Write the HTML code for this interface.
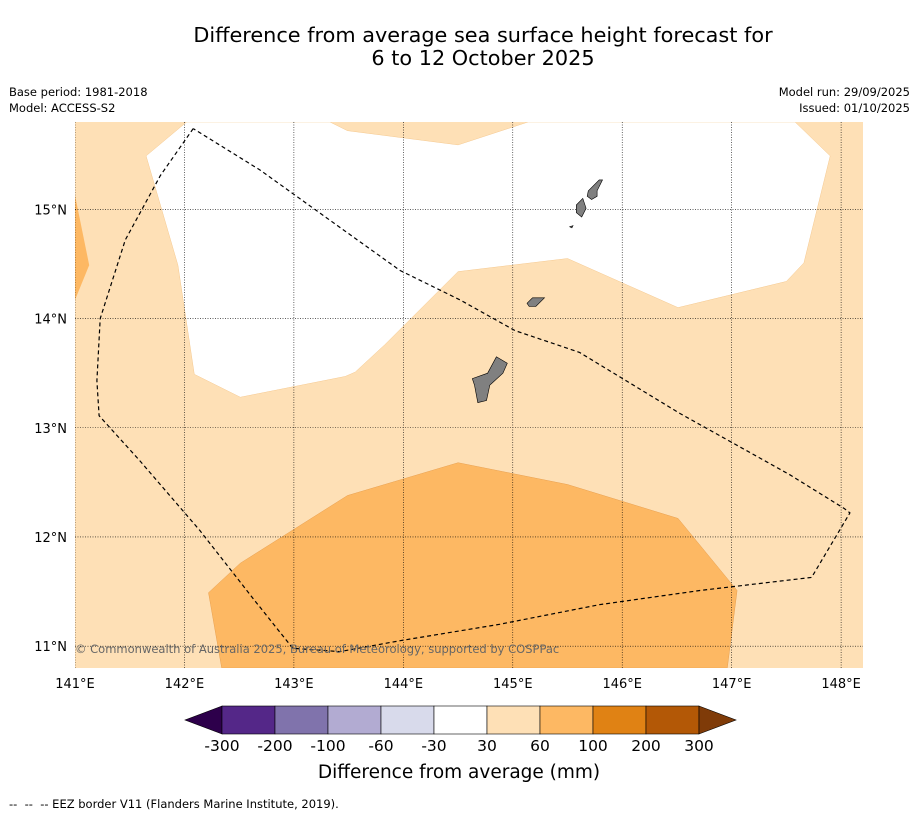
<!DOCTYPE html>
<html><head><meta charset="utf-8">
<style>
body{margin:0;background:#fff;font-family:"Liberation Sans","DejaVu Sans",sans-serif;}
svg text{font-family:"DejaVu Sans","Liberation Sans",sans-serif;}
</style></head>
<body>
<svg width="919" height="816" xmlns="http://www.w3.org/2000/svg">
<text x="483" y="42" font-size="20.8" text-anchor="middle">Difference from average sea surface height forecast for</text>
<text x="483" y="65" font-size="20.8" text-anchor="middle">6 to 12 October 2025</text>
<text x="9" y="96" font-size="11.5">Base period: 1981-2018</text>
<text x="9" y="112" font-size="11.5">Model: ACCESS-S2</text>
<text x="910" y="96" font-size="11.5" text-anchor="end">Model run: 29/09/2025</text>
<text x="910" y="112" font-size="11.5" text-anchor="end">Issued: 01/10/2025</text>
<g id="map"></g>
<g id="cbar"></g>
<text x="459" y="778" font-size="18.5" text-anchor="middle">Difference from average (mm)</text>
<text x="9" y="808" font-size="11.5">--&#160;&#160;--&#160;&#160;-- EEZ border V11 (Flanders Marine Institute, 2019).</text>
</svg>
<script>
const lonTicks=[141,142,143,144,145,146,147,148];
const latTicks=[11,12,13,14,15];
const whiteRegion=[[142.02,15.80],[141.65,15.49],[141.94,14.49],[142.09,13.49],[142.51,13.28],[143.47,13.47],[143.56,13.51],[143.83,13.76],[144.50,14.43],[145.50,14.55],[146.51,14.10],[147.50,14.34],[147.66,14.51],[147.90,15.49],[147.58,15.80],[145.14,15.80],[144.50,15.59],[143.49,15.72],[143.33,15.80]];
const orangeRegion=[[142.34,10.80],[142.22,11.49],[142.51,11.76],[143.49,12.38],[144.50,12.68],[145.50,12.48],[146.51,12.17],[147.05,11.51],[146.96,10.80]];
const leftOrange=[[141.0,15.13],[141.13,14.49],[141.0,14.17]];
const eez=[[142.08,15.74],[141.78,15.31],[141.46,14.72],[141.23,14.00],[141.20,13.43],[141.22,13.11],[141.59,12.70],[142.14,12.06],[142.64,11.42],[142.99,10.98],[143.42,10.95],[143.97,11.05],[144.88,11.20],[145.79,11.38],[146.71,11.51],[147.73,11.63],[148.08,12.22],[148.03,12.26],[147.53,12.57],[146.53,13.13],[145.61,13.69],[145.02,13.89],[144.52,14.17],[143.97,14.44],[143.33,14.90],[142.69,15.36],[142.08,15.74]];
const islands=[
 [[144.63,13.45],[144.77,13.50],[144.85,13.65],[144.95,13.59],[144.91,13.50],[144.79,13.39],[144.76,13.25],[144.68,13.23],[144.65,13.39]],
 [[145.13,14.14],[145.18,14.19],[145.29,14.19],[145.21,14.11],[145.15,14.11]],
 [[145.69,15.17],[145.79,15.27],[145.82,15.27],[145.77,15.17],[145.77,15.12],[145.72,15.09],[145.68,15.12]],
 [[145.58,15.04],[145.64,15.10],[145.67,15.01],[145.63,14.93],[145.58,14.97]],
 [[145.52,14.84],[145.55,14.85],[145.54,14.83]]
];
const cbarLevels=["-300","-200","-100","-60","-30","30","60","100","200","300"];
const cbarColors=["#542788","#8073ac","#b2abd2","#d8daeb","#ffffff","#fee0b6","#fdb863","#e08214","#b35806"];
const NS="http://www.w3.org/2000/svg";
const X0=75,X1=863,Y0=122,Y1=668,LON0=141,LON1=148.2,LAT0=10.8,LAT1=15.8;
const xs=lon=>X0+(lon-LON0)/(LON1-LON0)*(X1-X0);
const ys=lat=>Y1-(lat-LAT0)/(LAT1-LAT0)*(Y1-Y0);
function mk(tag,attrs,parent){const e=document.createElementNS(NS,tag);for(const k in attrs)e.setAttribute(k,attrs[k]);parent.appendChild(e);return e;}
const pts=a=>a.map(p=>xs(p[0]).toFixed(1)+","+ys(p[1]).toFixed(1)).join(" ");
const map=document.getElementById('map');
const defs=mk('defs',{},map);const cp=mk('clipPath',{id:'clip'},defs);mk('rect',{x:X0,y:Y0,width:X1-X0,height:Y1-Y0},cp);
const g=mk('g',{'clip-path':'url(#clip)'},map);
let e=mk('rect',{x:X0,y:Y0,width:X1-X0,height:Y1-Y0,fill:'#fee0b6'},g);


e=mk('polygon',{points:pts(whiteRegion),fill:'#fff',stroke:'#f5c990','stroke-width':0.5},g);


e=mk('polygon',{points:pts(orangeRegion),fill:'#fdb863',stroke:'#e8a050','stroke-width':0.5},g);


e=mk('polygon',{points:pts(leftOrange),fill:'#fdb863'},g);


lonTicks.forEach(l=>{const x=xs(l);
 const ln=mk('line',{x1:x,x2:x,y1:Y0,y2:Y1,stroke:'#000','stroke-width':0.6,'stroke-dasharray':'1,1.5'},g);
 
 
 const t=mk('text',{x:x,y:688,'font-size':13,'text-anchor':'middle'},map);t.textContent=l+'°E';
 
 });
latTicks.forEach(l=>{const y=ys(l);
 const ln=mk('line',{x1:X0,x2:X1,y1:y,y2:y,stroke:'#000','stroke-width':0.6,'stroke-dasharray':'1,1.5'},g);
 
 
 const t=mk('text',{x:67,y:y+5,'font-size':13,'text-anchor':'end'},map);t.textContent=l+'°N';
 
 });
islands.forEach(isl=>{const p=mk('polygon',{points:pts(isl),fill:'#808080',stroke:'#000','stroke-width':0.6},g);
 
 });
e=mk('polyline',{points:pts(eez),fill:'none',stroke:'#000','stroke-width':1.2,'stroke-dasharray':'4,3'},g);


e=mk('text',{x:75,y:653,'font-size':11.5,fill:'#666'},map);e.textContent='© Commonwealth of Australia 2025, Bureau of Meteorology, supported by COSPPac';


const cb=document.getElementById('cbar');
const CX0=222,CW=53,CY=706,CH=28;
let t=mk('polygon',{points:`${CX0},${CY} ${CX0},${CY+CH} 185,${CY+CH/2}`,fill:'#2d004b',stroke:'#000','stroke-width':0.6},cb);


cbarColors.forEach((c,i)=>{const r=mk('rect',{x:CX0+i*CW,y:CY,width:CW,height:CH,fill:c,stroke:'#000','stroke-width':0.6},cb);
 
 });
const xe=CX0+cbarColors.length*CW;
t=mk('polygon',{points:`${xe},${CY} ${xe},${CY+CH} 736,${CY+CH/2}`,fill:'#7f3b08',stroke:'#000','stroke-width':0.6},cb);


cbarLevels.forEach((l,i)=>{const tx=mk('text',{x:CX0+i*CW,y:751,'font-size':15.5,'text-anchor':'middle'},cb);tx.textContent=l;
 
 });
</script>
</body></html>
